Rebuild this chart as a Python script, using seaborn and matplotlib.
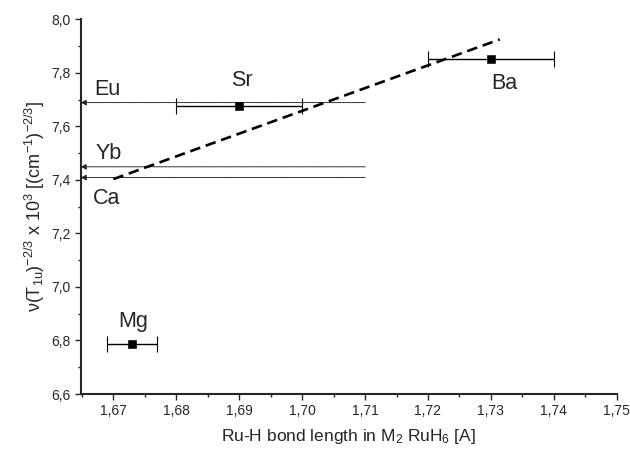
import numpy as np
import pandas as pd
import seaborn as sns
import matplotlib.pyplot as plt
from matplotlib.ticker import MultipleLocator, FuncFormatter

# Measured points (bond length, value, x error)
metals = ["Mg", "Sr", "Ba"]
bond_len = [1.673, 1.690, 1.730]
nu_val = [6.788, 7.677, 7.850]
bond_err = [0.004, 0.010, 0.010]

# Ions shown only as arrows on the y axis
arrow_ions = ["Eu", "Yb", "Ca"]
arrow_val = [7.689, 7.449, 7.409]
arrow_from = 1.71

# Dashed trend line
fit_x = [1.670, 1.7314]
fit_y = [7.403, 7.925]

# Label anchors
label_names = ["Mg", "Sr", "Ba", "Eu", "Yb", "Ca"]
label_x = [1.6731, 1.6904, 1.7322, 1.6670, 1.6672, 1.6668]
label_y = [6.872, 7.771, 7.762, 7.737, 7.497, 7.330]
label_ha = ["center", "center", "center", "left", "left", "left"]

sns.set_style("ticks")
plt.rcParams["font.family"] = ["Liberation Sans", "DejaVu Sans"]
plt.rcParams["mathtext.fontset"] = "custom"
plt.rcParams["mathtext.rm"] = "Liberation Sans"
plt.rcParams["mathtext.it"] = "Liberation Sans"

df = pd.DataFrame({"metal": metals, "x": bond_len, "y": nu_val, "xerr": bond_err})

fig = plt.figure(figsize=(6.3, 4.5), dpi=100)
ax = fig.add_axes([0.128, 0.1244, 0.851, 0.8326])

# error bars
ax.errorbar(df["x"], df["y"], xerr=df["xerr"], fmt="none", ecolor="black",
            elinewidth=1.0, capsize=5.5, capthick=0.8)
sns.scatterplot(data=df, x="x", y="y", ax=ax, marker="s", color="black",
                s=28, edgecolor="black", zorder=5, legend=False)

# dashed trend
sns.lineplot(x=fit_x, y=fit_y, ax=ax, color="black", lw=1.9,
             linestyle=(0, (4, 2.2)), zorder=4)

# dotted arrows to the y axis
for v in arrow_val:
    ax.annotate("", xy=(0.0, v), xycoords=("axes fraction", "data"),
                xytext=(arrow_from, v), textcoords="data",
                arrowprops=dict(arrowstyle="-|>", color="#222222", lw=0.7,
                                linestyle=(0, (1, 0.8)), mutation_scale=8,
                                shrinkA=0, shrinkB=0))

for name, lx, ly, ha in zip(label_names, label_x, label_y, label_ha):
    ax.text(lx, ly, name, ha=ha, va="center", fontsize=15.5)

ax.set_xlim(1.6648, 1.75)
ax.set_ylim(6.6, 8.0)
ax.xaxis.set_major_locator(MultipleLocator(0.01))
ax.xaxis.set_minor_locator(MultipleLocator(0.005))
ax.yaxis.set_major_locator(MultipleLocator(0.2))
ax.yaxis.set_minor_locator(MultipleLocator(0.1))
ax.xaxis.set_major_formatter(FuncFormatter(lambda v, p: f"{v:.2f}".replace(".", ",")))
ax.yaxis.set_major_formatter(FuncFormatter(lambda v, p: f"{v:.1f}".replace(".", ",")))
ax.tick_params(which="major", length=4, width=1.0, labelsize=10, direction="out")
ax.tick_params(which="minor", length=2.5, width=1.0, direction="out")
for lab in ax.get_xticklabels() + ax.get_yticklabels():
    lab.set_fontfamily(["Liberation Sans Narrow", "Liberation Sans"])

ax.spines["top"].set_visible(False)
ax.spines["right"].set_visible(False)
ax.spines["left"].set_linewidth(1.5)
ax.spines["bottom"].set_linewidth(1.5)

ax.set_xlabel(r"Ru-H bond length in M$_2$ RuH$_6$ [A]", fontsize=12.5, labelpad=6)
ax.set_ylabel(r"ν(T$_{1u}$)$^{-2/3}$ x 10$^3$ [(cm$^{-1}$)$^{-2/3}$]",
              fontsize=13, labelpad=3)

fig.savefig("out.png", dpi=100)
